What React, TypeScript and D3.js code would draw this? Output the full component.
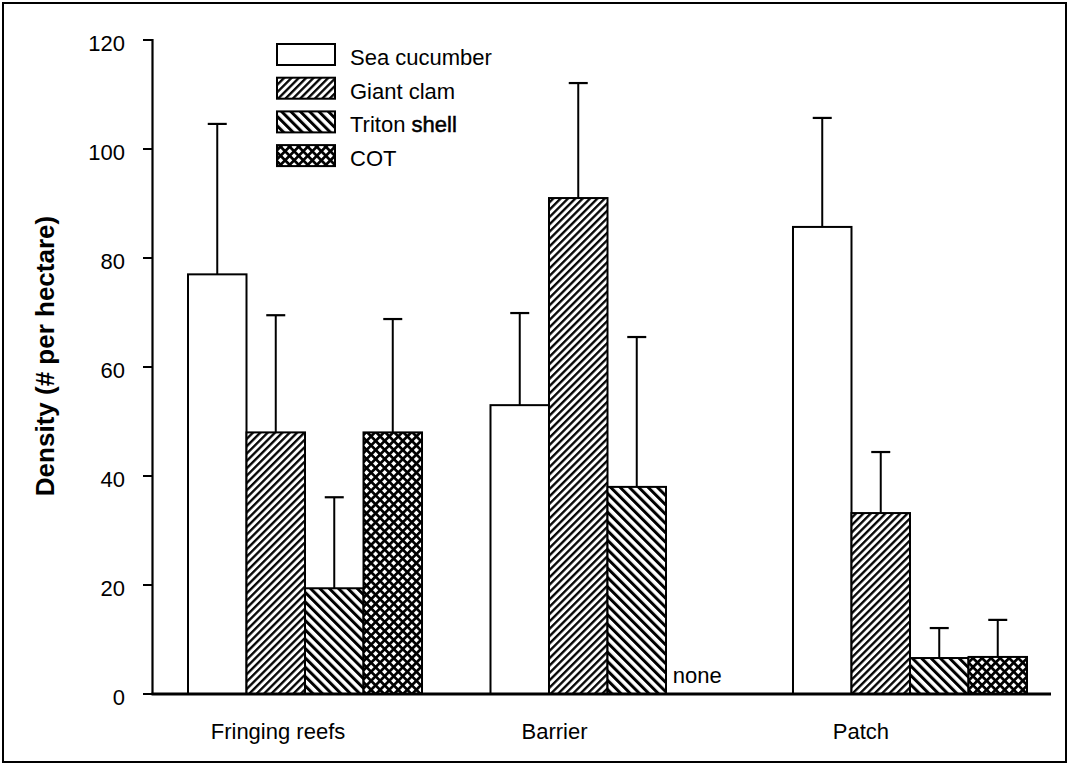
import React, { useRef, useEffect } from "react";
import * as d3 from "d3";

const categories = ["Fringing reefs", "Barrier", "Patch"];
const seriesNames = ["Sea cucumber", "Giant clam", "Triton shell", "COT"];

// mean density and upper error (SE) per reef type
const seaCucumber = [77, 53, 85.7];
const seaCucumberErr = [27.6, 16.9, 20];
const giantClam = [48, 91, 33.2];
const giantClamErr = [21.5, 21.1, 11.2];
const tritonShell = [19.4, 38, 6.6];
const tritonShellErr = [16.7, 27.5, 5.5];
const cot = [48, null, 6.8];
const cotErr = [20.8, null, 6.8];

const yTicks = [0, 20, 40, 60, 80, 100, 120];

const FONT = "'Liberation Sans', Arial, Helvetica, sans-serif";
const FS = "22px";

const App = () => {
  const ref = useRef<SVGSVGElement>(null);
  const width = 1069;
  const height = 765;

  useEffect(() => {
    const svg = d3.select(ref.current);
    svg.selectAll("*").remove();

    const values = [seaCucumber, giantClam, tritonShell, cot];
    const errors = [seaCucumberErr, giantClamErr, tritonShellErr, cotErr];

    const defs = svg.append("defs");
    // pattern fills
    const p1 = defs
      .append("pattern")
      .attr("id", "pat1")
      .attr("patternUnits", "userSpaceOnUse")
      .attr("width", 5.2)
      .attr("height", 5.2)
      .attr("patternTransform", "rotate(45)");
    p1.append("rect").attr("width", 5.2).attr("height", 5.2).attr("fill", "#fff");
    p1.append("line")
      .attr("x1", 1.2).attr("x2", 1.2).attr("y1", 0).attr("y2", 5.2)
      .attr("stroke", "#000").attr("stroke-width", 2.3);

    const p2 = defs
      .append("pattern")
      .attr("id", "pat2")
      .attr("patternUnits", "userSpaceOnUse")
      .attr("width", 6.6)
      .attr("height", 6.6)
      .attr("patternTransform", "rotate(-45)");
    p2.append("rect").attr("width", 6.6).attr("height", 6.6).attr("fill", "#fff");
    p2.append("line")
      .attr("x1", 1.5).attr("x2", 1.5).attr("y1", 0).attr("y2", 6.6)
      .attr("stroke", "#000").attr("stroke-width", 3);

    const p3 = defs
      .append("pattern")
      .attr("id", "pat3")
      .attr("patternUnits", "userSpaceOnUse")
      .attr("width", 6.4)
      .attr("height", 6.4)
      .attr("patternTransform", "rotate(45)");
    p3.append("rect").attr("width", 6.4).attr("height", 6.4).attr("fill", "#fff");
    p3.append("line")
      .attr("x1", 1.3).attr("x2", 1.3).attr("y1", 0).attr("y2", 6.4)
      .attr("stroke", "#000").attr("stroke-width", 2.8);
    p3.append("line")
      .attr("y1", 1.3).attr("y2", 1.3).attr("x1", 0).attr("x2", 6.4)
      .attr("stroke", "#000").attr("stroke-width", 2.8);

    const fills = ["#fff", "url(#pat1)", "url(#pat2)", "url(#pat3)"];

    // frame
    svg.append("rect")
      .attr("x", 3).attr("y", 3).attr("width", 1063).attr("height", 759)
      .attr("fill", "#fff").attr("stroke", "#000").attr("stroke-width", 2);

    const y = d3.scaleLinear().domain([0, 120]).range([694, 40]);
    const x0 = d3.scaleBand().domain(categories).range([188, 1027]).paddingInner(0.2264).paddingOuter(0);
    const x1 = d3.scaleBand().domain(seriesNames).range([0, x0.bandwidth()]).padding(0);

    // bars
    seriesNames.forEach((s, si) => {
      categories.forEach((c, ci) => {
        const v = values[si][ci];
        const bx = x0(c)! + x1(s)!;
        if (v == null) {
          svg.append("text")
            .attr("x", bx + x1.bandwidth() / 2 + 2)
            .attr("y", y(0) - 11)
            .attr("text-anchor", "middle")
            .style("font-family", FONT)
            .style("font-size", FS)
            .text("none");
          return;
        }
        const e = errors[si][ci]!;
        const cx = bx + x1.bandwidth() / 2;
        svg.append("line")
          .attr("x1", cx).attr("x2", cx).attr("y1", y(v)).attr("y2", y(v + e))
          .attr("stroke", "#000").attr("stroke-width", 2);
        svg.append("line")
          .attr("x1", cx - 9.5).attr("x2", cx + 9.5).attr("y1", y(v + e)).attr("y2", y(v + e))
          .attr("stroke", "#000").attr("stroke-width", 2.2);
        svg.append("rect")
          .attr("x", bx).attr("y", y(v))
          .attr("width", x1.bandwidth()).attr("height", y(0) - y(v))
          .attr("fill", fills[si]).attr("stroke", "#000").attr("stroke-width", 2);
      });
    });

    // y axis
    svg.append("line")
      .attr("x1", 152.5).attr("x2", 152.5).attr("y1", y(120) - 1).attr("y2", y(0))
      .attr("stroke", "#000").attr("stroke-width", 2.2);
    const tk = svg.append("g");
    tk.selectAll("line").data(yTicks).enter().append("line")
      .attr("x1", 143).attr("x2", 152.5)
      .attr("y1", (d) => y(d)).attr("y2", (d) => y(d))
      .attr("stroke", "#000").attr("stroke-width", 2);
    tk.selectAll("text").data(yTicks).enter().append("text")
      .attr("x", 125).attr("y", (d) => y(d) + 11)
      .attr("text-anchor", "end")
      .style("font-family", FONT).style("font-size", FS)
      .text((d) => d);

    // x axis
    svg.append("line")
      .attr("x1", 151.5).attr("x2", 1051).attr("y1", y(0)).attr("y2", y(0))
      .attr("stroke", "#000").attr("stroke-width", 3);

    const labelDx = [90, 64, 68];
    svg.selectAll(".cat").data(categories).enter().append("text")
      .attr("x", (d, i) => x0(d)! + labelDx[i])
      .attr("y", 739)
      .attr("text-anchor", "middle")
      .style("font-family", FONT).style("font-size", FS)
      .text((d) => d);

    // y title
    svg.append("text")
      .attr("transform", "translate(54,356) rotate(-90)")
      .attr("text-anchor", "middle")
      .style("font-family", FONT).style("font-size", "26px").style("font-weight", "bold")
      .text("Density (# per hectare)");

    // legend
    const lg = svg.append("g");
    seriesNames.forEach((s, i) => {
      const ly = 44 + i * 33.7;
      lg.append("rect")
        .attr("x", 277).attr("y", ly).attr("width", 58).attr("height", 21)
        .attr("fill", fills[i]).attr("stroke", "#000").attr("stroke-width", 2);
      const t = lg.append("text")
        .attr("x", 350).attr("y", ly + 21)
        .style("font-family", FONT).style("font-size", FS);
      if (s === "Triton shell") {
        t.append("tspan").text("Triton ");
        t.append("tspan").attr("stroke", "#000").attr("stroke-width", 0.5).text("shell");
      } else {
        t.text(s);
      }
    });
  }, []);

  return (
    <div style={{ position: "absolute", left: 0, top: 0 }}>
      <svg ref={ref} width={width} height={height}></svg>
    </div>
  );
};

export default App;
